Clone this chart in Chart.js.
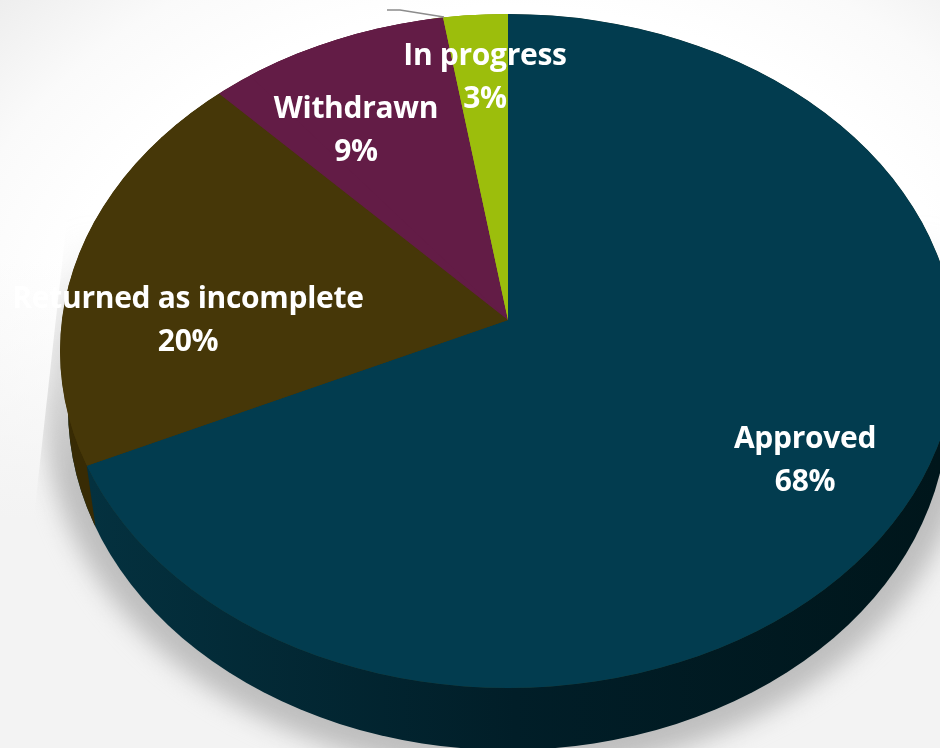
<!DOCTYPE html>
<html>
<head>
<meta charset="utf-8">
<title>Application status</title>
<script src="https://cdn.jsdelivr.net/npm/chart.js@4"></script>
<style>
  html, body { margin:0; padding:0; background:#fff; overflow:hidden; }
  canvas { display:block; }
</style>
</head>
<body>
<canvas id="statusPie" width="940" height="748"></canvas>
<script>
const categories = ["Approved", "Returned as incomplete", "Withdrawn", "In progress"];
const shares = [68, 20, 9, 3];
const sliceColors = ["#023C4F", "#463708", "#631C46", "#9CBE0C"];
const labelSpots = [[805, 439], [188, 299], [356, 109], [485, 56]];

// top face of the tilted disc, and the apex the slices meet at (it sits above the face centre)
const FACE = { x:508, y:351, rx:448, ry:337 };
const APEX = { x:508, y:320, sx:1.89, sy:1.39 };
// the far end of the disc is foreshortened, so the slices up there get a narrower stretch
const FAR_SX = 1.564;
// bottom rim of the disc and the direction the wall seam runs in
const RIM = { x:508, y:408, rx:440, ry:342 };
const SEAM_SLOPE = 9/63;

function ellipsePath(ctx, e){
  ctx.beginPath();
  ctx.ellipse(e.x, e.y, e.rx, e.ry, 0, 0, Math.PI*2);
}

function placeArcs(ctx, el, sx){
  ctx.translate(APEX.x, APEX.y);
  ctx.scale(sx, APEX.sy);
  ctx.translate(-el.x, -el.y);
}

// where the edge of a slice at this angle meets the rim of the top face
function edgeOnFace(angle){
  const dx = Math.cos(angle)*APEX.sx, dy = Math.sin(angle)*APEX.sy;
  const ox = (APEX.x-FACE.x)/FACE.rx, oy = (APEX.y-FACE.y)/FACE.ry;
  const ux = dx/FACE.rx, uy = dy/FACE.ry;
  const a = ux*ux+uy*uy, b = 2*(ox*ux+oy*uy), c = ox*ox+oy*oy-1;
  const t = (-b+Math.sqrt(b*b-4*a*c))/(2*a);
  return { x:APEX.x+dx*t, y:APEX.y+dy*t };
}

function paintBackdrop(ctx, w, h){
  ctx.fillStyle = "#fff";
  ctx.fillRect(0, 0, w, h);

  // pale grey falloff away from the disc
  ctx.save();
  ctx.translate(FACE.x, FACE.y);
  ctx.scale(FACE.rx, FACE.ry);
  const glow = ctx.createRadialGradient(0, 0, 1.02, 0, 0, 1.75);
  glow.addColorStop(0, "#ffffff");
  glow.addColorStop(0.35, "#fafafa");
  glow.addColorStop(1, "#e4e4e4");
  ctx.fillStyle = glow;
  ctx.fillRect(-2, -2, 4, 4);
  ctx.restore();

  // lower floor tone
  const floor = ctx.createLinearGradient(0, 260, 0, 520);
  floor.addColorStop(0, "rgba(243,243,243,0)");
  floor.addColorStop(1, "rgba(243,243,243,1)");
  ctx.fillStyle = floor;
  ctx.fillRect(0, 260, w, h-260);

  // cast shadow, cut off on the left by a straight edge and fading out upwards
  ctx.save();
  ctx.beginPath();
  ctx.moveTo(68, 210);
  ctx.lineTo(32, 534);
  ctx.lineTo(0, 748);
  ctx.lineTo(940, 748);
  ctx.lineTo(940, 210);
  ctx.closePath();
  ctx.clip();
  const fade = ctx.createLinearGradient(0, 230, 0, 480);
  fade.addColorStop(0, "rgba(190,190,190,0)");
  fade.addColorStop(1, "rgba(190,190,190,1)");
  ctx.filter = "blur(12px)";
  ctx.fillStyle = fade;
  ctx.beginPath();
  ctx.ellipse(RIM.x, RIM.y, RIM.rx + 24, RIM.ry + 24, 0, 0, Math.PI*2);
  ctx.moveTo(FACE.x + FACE.rx + 14, FACE.y);
  ctx.ellipse(FACE.x, FACE.y, FACE.rx + 14, FACE.ry, 0, 0, Math.PI*2);
  ctx.fill();
  ctx.restore();
}

// wall: the slices repainted in darker tones, either side of the seam, inside the rim
function paintWall(ctx, arcs){
  const first = arcs[0];
  const seamTop = edgeOnFace(first.endAngle);
  const seamX = y => seamTop.x + (y-seamTop.y)*SEAM_SLOPE;
  const shade = ctx.createLinearGradient(90, 0, 940, 0);
  shade.addColorStop(0, "#04313F");
  shade.addColorStop(0.5, "#011E28");
  shade.addColorStop(1, "#00161B");

  ctx.save();
  ellipsePath(ctx, RIM);
  ctx.clip();
  ctx.fillStyle = shade;
  ctx.fillRect(0, 0, 940, 748);
  ctx.beginPath();
  ctx.moveTo(0, 0);
  ctx.lineTo(seamX(0), 0);
  ctx.lineTo(seamX(748), 748);
  ctx.lineTo(0, 748);
  ctx.closePath();
  ctx.fillStyle = "#382B04";
  ctx.fill();
  ctx.restore();
}

const discPlugin = {
  id:"disc",
  beforeDraw(chart){
    paintBackdrop(chart.ctx, chart.width, chart.height);
  },
  beforeDatasetsDraw(chart){
    const ctx = chart.ctx;
    const arcs = chart.getDatasetMeta(0).data;
    paintWall(ctx, arcs);

    // the library's own slices are stretched onto the top face
    ctx.save();
    ellipsePath(ctx, FACE);
    ctx.clip();
    ctx.fillStyle = sliceColors[1];
    ctx.fill();
    placeArcs(ctx, arcs[0], APEX.sx);
  },
  afterDatasetsDraw(chart){
    const ctx = chart.ctx;
    const arcs = chart.getDatasetMeta(0).data;
    ctx.restore();

    ctx.save();
    ellipsePath(ctx, FACE);
    ctx.clip();
    placeArcs(ctx, arcs[0], FAR_SX);
    arcs[2].draw(ctx);
    arcs[3].draw(ctx);
    ctx.restore();
  },
  afterDraw(chart){
    const ctx = chart.ctx;

    // leader line for the smallest slice
    ctx.save();
    ctx.strokeStyle = "#8C8C8C";
    ctx.lineWidth = 1.5;
    ctx.beginPath();
    ctx.moveTo(387, 10);
    ctx.lineTo(400, 10);
    ctx.lineTo(444, 17);
    ctx.stroke();

    ctx.fillStyle = "#fff";
    ctx.font = "bold 30px 'Open Sans'";
    ctx.letterSpacing = "-0.3px";
    ctx.textAlign = "center";
    ctx.textBaseline = "middle";
    categories.forEach((name, i) => {
      const [x, y] = labelSpots[i];
      ctx.fillText(name, x, y);
      ctx.fillText(shares[i] + "%", x, y + 43);
    });
    ctx.restore();
  }
};

new Chart(document.getElementById("statusPie"), {
  type:"pie",
  data:{ labels:categories, datasets:[{ data:shares, backgroundColor:sliceColors, borderWidth:0 }] },
  options:{
    responsive:false,
    animation:false,
    layout:{ padding:0 },
    plugins:{ legend:{ display:false }, tooltip:{ enabled:false } }
  },
  plugins:[discPlugin]
});
</script>
</body>
</html>
